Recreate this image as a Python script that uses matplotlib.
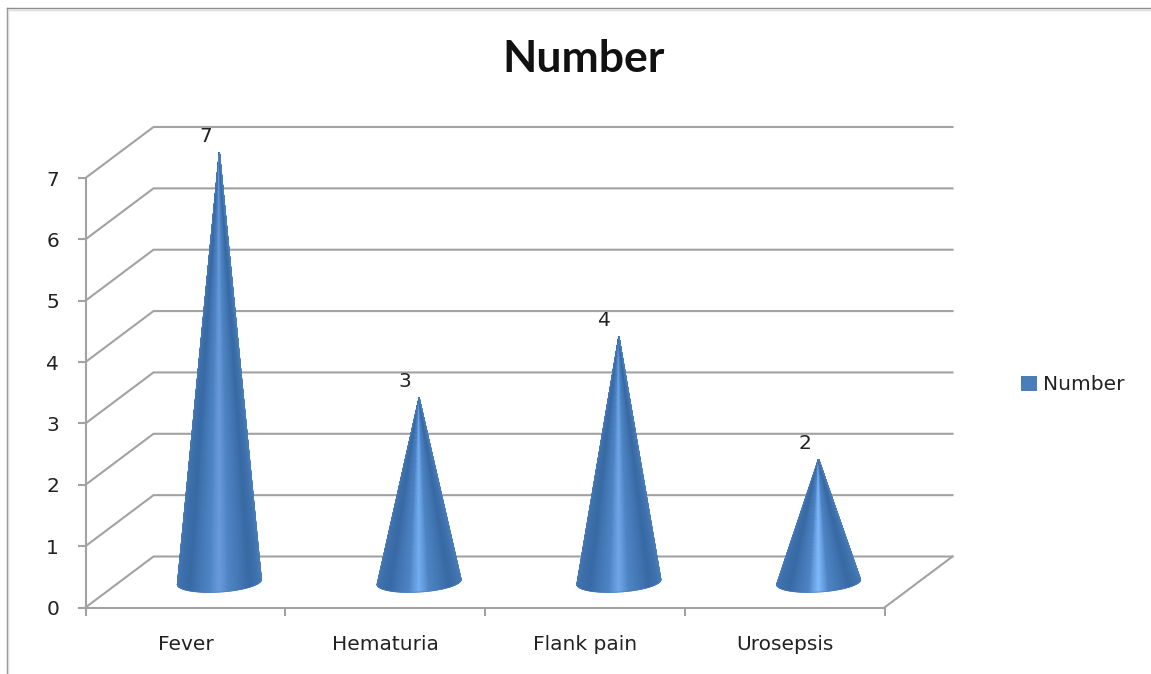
import numpy as np
import matplotlib
matplotlib.use("Agg")
import matplotlib.pyplot as plt
from matplotlib.colors import LinearSegmentedColormap
from matplotlib.lines import Line2D
from matplotlib.patches import Patch

categories = ["Fever", "Hematuria", "Flank pain", "Urosepsis"]
values = [7, 3, 4, 2]
y_ticks = [0, 1, 2, 3, 4, 5, 6, 7]
title = "Number"
series_name = "Number"

W, H = 1151, 674
LEFT, RIGHT, TOP, BOTTOM = 85.5, 884.5, 178, 607.5
GRID = "#a2a2a2"
TXT = "#222222"
FS = 14.5

plt.rcParams["font.family"] = ["DejaVu Sans"]
fig = plt.figure(figsize=(W / 100, H / 100), dpi=100, facecolor="white")
ax = fig.add_axes([LEFT / W, 1 - BOTTOM / H, (RIGHT - LEFT) / W, (BOTTOM - TOP) / H])
ax.set_xlim(0, len(categories))
ax.set_ylim(0, 7)
ax.patch.set_alpha(0)

px_x = (RIGHT - LEFT) / len(categories)
px_y = (BOTTOM - TOP) / 7
DX = 68 / px_x
DY = 51 / px_y

# walls and floor
for v in y_ticks:
    ax.plot([0, DX, len(categories) + DX], [v, v + DY, v + DY], color=GRID, lw=1.5,
            clip_on=False, zorder=1, solid_joinstyle="miter")
ax.plot([len(categories), len(categories) + DX], [0, DY], color=GRID, lw=1.5, clip_on=False, zorder=1)

for s in ("top", "right"):
    ax.spines[s].set_visible(False)
for s in ("left", "bottom"):
    ax.spines[s].set_color(GRID)
    ax.spines[s].set_linewidth(1.5)
    ax.spines[s].set_zorder(1.5)

ax.set_yticks(y_ticks)
ax.set_xticks(np.arange(len(categories) + 1))
ax.set_xticklabels([])
ax.set_xticks(np.arange(len(categories)) + 0.5, minor=True)
ax.set_xticklabels(categories, minor=True, fontsize=FS, color=TXT)
ax.tick_params(axis="x", which="major", length=6, width=1.5, color=GRID)
ax.tick_params(axis="x", which="minor", length=0, pad=19.5)
ax.tick_params(axis="y", length=6, width=1.5, color=GRID, pad=13, labelsize=FS, labelcolor=TXT)

# cones
highlights = {7: "#6a9cdc", 3: "#75b0f4", 4: "#70a8ea", 2: "#82bcff"}
half_w = 42 / px_x
b = 10 / px_y
tilt = 2.5 / px_y
theta = np.linspace(np.pi, 0, 121)
u = np.cos(theta)
t = np.linspace(0, 1, 41)
for i, val in enumerate(values):
    cx = i + 0.5 + DX / 2
    cy = DY / 2
    stops = [(0.0, "#4478b6"), (0.25, "#386aa4"), (0.42, "#4e84c4"), (0.5, highlights[val]),
             (0.58, "#4e84c4"), (0.76, "#386aa4"), (1.0, "#4a7ebb")]
    cmap = LinearSegmentedColormap.from_list("c", stops)
    U, T = np.meshgrid(u, t)
    X = cx + half_w * U * (1 - T)
    base = cy - b * np.sqrt(1 - U ** 2) + tilt * U
    Y = base * (1 - T) + (val + DY / 2) * T
    ax.pcolormesh(X, Y, np.arccos(-U) / np.pi, cmap=cmap, vmin=0, vmax=1,
                  shading="gouraud", clip_on=False, zorder=3)
    ox = np.concatenate([X[0], X[:, -1][1:], X[:, 0][::-1][1:]])
    oy = np.concatenate([Y[0], Y[:, -1][1:], Y[:, 0][::-1][1:]])
    ax.plot(ox, oy, color="#4a7ebb", lw=0.7, alpha=0.6, clip_on=False, zorder=3.1)
    ax.annotate(str(val), (cx, val + DY / 2), xytext=(-14 * 0.72, 16 * 0.72), textcoords="offset points",
                ha="center", va="center", fontsize=FS, color=TXT, zorder=4, annotation_clip=False)

# title and legend
fig.text(583.5 / W, 1 - 59.5 / H, title, ha="center", va="center", fontsize=32, fontweight="bold",
         family="Lato", color="#111111")
ax.legend(handles=[Patch(facecolor="#4a7ebb", label=series_name)], loc="center left",
          bbox_to_anchor=(1021 / W, 1 - 385 / H), bbox_transform=fig.transFigure, frameon=False,
          fontsize=FS, handlelength=0.8, handleheight=0.8, handletextpad=0.3, borderpad=0,
          borderaxespad=0, labelcolor=TXT)

# chart-area border (top and left visible)
for xs, ys, col in [((6.5, 6.5), (H, 8), "#8c8c8c"), ((6.5, W), (8, 8), "#8c8c8c"),
                    ((8, 8), (H, 9.5), "#dcdcdc"), ((8, W), (9.5, 9.5), "#dcdcdc")]:
    fig.add_artist(Line2D([x / W for x in xs], [1 - y / H for y in ys], color=col, lw=1.0))

fig.savefig("out.png", dpi=100)
